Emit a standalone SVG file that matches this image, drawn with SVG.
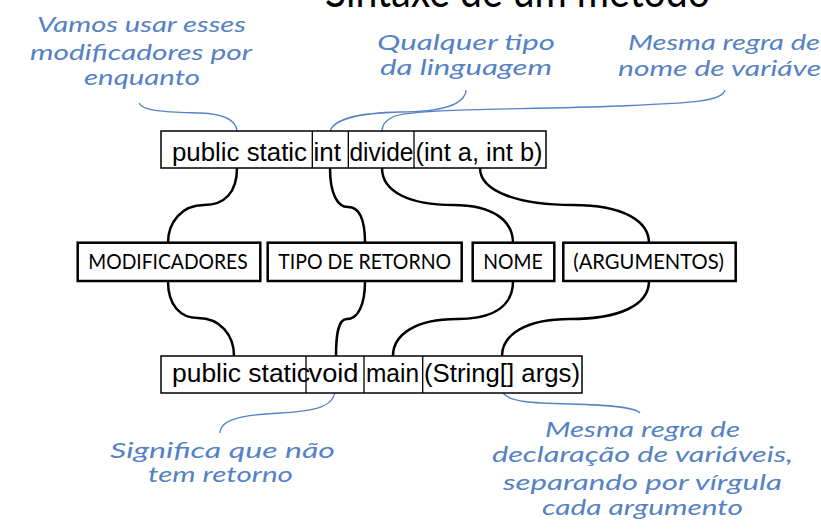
<svg xmlns="http://www.w3.org/2000/svg" width="821" height="532" viewBox="0 0 821 532">
  <style>
    .code { font-family: "Liberation Sans", Arial, sans-serif; font-size: 26px; fill: #000; }
    .codebox { fill: #fff; stroke: #000; stroke-width: 1.5; }
    .cell { stroke: #000; stroke-width: 1.3; }
    .catbox { fill: #fff; stroke: #000; stroke-width: 2.5; }
    .cat { font-family: Lato, "Open Sans", sans-serif; font-size: 21px; fill: #000; }
    .conn { fill: none; stroke: #000; stroke-width: 2.5; }
    .note { font-family: "Segoe Print", Lato, sans-serif; font-style: italic; font-size: 21px; fill: #5582c4; }
    .leader { fill: none; stroke: #5582c4; stroke-width: 1.3; }
    .title { font-family: Lato, "Open Sans", sans-serif; font-size: 44px; fill: #000; }
  </style>

  <text class="title" x="325" y="7" textLength="385" lengthAdjust="spacingAndGlyphs">Sintaxe de um método</text>

  <g id="connectors">
    <path class="conn" d="M237,168 C237,192 225,205 204,205 C182,205 168,222 168,243"/>
    <path class="conn" d="M330,168 C330,195 338,207 348,207 C360,207 365,222 365,243"/>
    <path class="conn" d="M382,168 C382,192 410,205 453,205 C495,205 513,222 513,243"/>
    <path class="conn" d="M480,168 C480,192 520,205 573,205 C625,205 649,222 649,243"/>
    <path class="conn" d="M168,281 C168,305 180,318 198,318 C220,318 234,335 234,356"/>
    <path class="conn" d="M365,281 C365,305 358,319 347,319 C338,319 336,335 336,356"/>
    <path class="conn" d="M513,281 C513,305 495,319 457,319 C415,319 393,335 393,356"/>
    <path class="conn" d="M649,281 C649,305 620,319 570,319 C525,319 502,335 502,356"/>
  </g>

  <g id="leaders">
    <path class="leader" d="M139,103 C143,112 170,112 200,113 C225,114 236,120 237,131"/>
    <path class="leader" d="M466,90 C465,105 440,112 400,112 C360,113 335,118 330,131"/>
    <path class="leader" d="M725,90 C722,102 690,103 620,106 C520,110 420,108 395,116 C385,120 382,125 382,131"/>
    <path class="leader" d="M220,433 C220,420 240,415 280,413 C320,411 333,405 335,392"/>
    <path class="leader" d="M503,393 C510,402 530,403 570,404 C610,405 635,407 640,413"/>
  </g>

  <g id="signature-divide">
    <rect class="codebox" x="161" y="131" width="385" height="37"/>
    <line class="cell" x1="312.3" y1="131" x2="312.3" y2="168"/>
    <line class="cell" x1="348.3" y1="131" x2="348.3" y2="168"/>
    <line class="cell" x1="414" y1="131" x2="414" y2="168"/>
    <text class="code" x="172" y="161" textLength="135" lengthAdjust="spacingAndGlyphs">public static</text>
    <text class="code" x="313.5" y="161" textLength="27.5" lengthAdjust="spacingAndGlyphs">int</text>
    <text class="code" x="349.5" y="161" textLength="64" lengthAdjust="spacingAndGlyphs">divide</text>
    <text class="code" x="415.5" y="161" textLength="127" lengthAdjust="spacingAndGlyphs">(int a, int b)</text>
  </g>

  <g id="node-modificadores">
    <rect class="catbox" x="77.7" y="242.7" width="182.6" height="38.3"/>
    <text class="cat" x="88.3" y="269" textLength="159.4" lengthAdjust="spacingAndGlyphs">MODIFICADORES</text>
  </g>
  <g id="node-tipo-retorno">
    <rect class="catbox" x="267.7" y="242.7" width="194" height="38.3"/>
    <text class="cat" x="278.3" y="269" textLength="172.8" lengthAdjust="spacingAndGlyphs">TIPO DE RETORNO</text>
  </g>
  <g id="node-nome">
    <rect class="catbox" x="472.7" y="242.7" width="81.6" height="38.3"/>
    <text class="cat" x="483.3" y="269" textLength="59.4" lengthAdjust="spacingAndGlyphs">NOME</text>
  </g>
  <g id="node-argumentos">
    <rect class="catbox" x="563.3" y="242.7" width="172.4" height="38.3"/>
    <text class="cat" x="573.3" y="269" textLength="150.7" lengthAdjust="spacingAndGlyphs">(ARGUMENTOS)</text>
  </g>

  <g id="signature-main">
    <rect class="codebox" x="161" y="356" width="421" height="37"/>
    <line class="cell" x1="306" y1="356" x2="306" y2="393"/>
    <line class="cell" x1="364" y1="356" x2="364" y2="393"/>
    <line class="cell" x1="422.7" y1="356" x2="422.7" y2="393"/>
    <text class="code" x="172" y="382.3" textLength="138" lengthAdjust="spacingAndGlyphs">public static</text>
    <text class="code" x="308.5" y="382.3" textLength="50" lengthAdjust="spacingAndGlyphs">void</text>
    <text class="code" x="366" y="382.3" textLength="53" lengthAdjust="spacingAndGlyphs">main</text>
    <text class="code" x="424" y="382.3" textLength="156" lengthAdjust="spacingAndGlyphs">(String[] args)</text>
  </g>

  <g id="note-modificadores">
    <text class="note" x="37" y="32" textLength="209" lengthAdjust="spacingAndGlyphs">Vamos usar esses</text>
    <text class="note" x="30" y="60" textLength="222" lengthAdjust="spacingAndGlyphs">modificadores por</text>
    <text class="note" x="84" y="85" textLength="116" lengthAdjust="spacingAndGlyphs">enquanto</text>
  </g>
  <g id="note-tipo">
    <text class="note" x="377" y="50" textLength="178" lengthAdjust="spacingAndGlyphs">Qualquer tipo</text>
    <text class="note" x="380" y="75" textLength="172" lengthAdjust="spacingAndGlyphs">da linguagem</text>
  </g>
  <g id="note-nome">
    <text class="note" x="628" y="50" textLength="192" lengthAdjust="spacingAndGlyphs">Mesma regra de</text>
    <text class="note" x="618" y="76" textLength="203" lengthAdjust="spacingAndGlyphs">nome de variáve</text>
  </g>
  <g id="note-void">
    <text class="note" x="110" y="458" textLength="225" lengthAdjust="spacingAndGlyphs">Significa que não</text>
    <text class="note" x="148" y="482" textLength="145" lengthAdjust="spacingAndGlyphs">tem retorno</text>
  </g>
  <g id="note-argumentos">
    <text class="note" x="545" y="437" textLength="195" lengthAdjust="spacingAndGlyphs">Mesma regra de</text>
    <text class="note" x="492" y="462" textLength="301" lengthAdjust="spacingAndGlyphs">declaração de variáveis,</text>
    <text class="note" x="503" y="490" textLength="279" lengthAdjust="spacingAndGlyphs">separando por vírgula</text>
    <text class="note" x="542" y="515" textLength="201" lengthAdjust="spacingAndGlyphs">cada argumento</text>
  </g>
</svg>
